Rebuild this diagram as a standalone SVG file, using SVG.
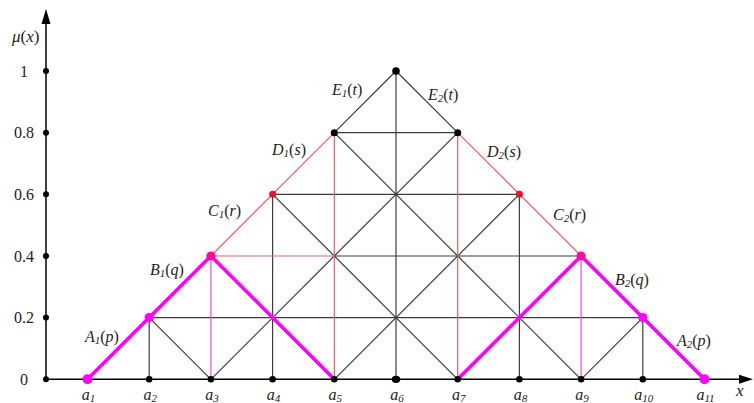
<svg xmlns="http://www.w3.org/2000/svg" width="754" height="403" viewBox="0 0 754 403">
<style>
.g{stroke:#3c3c3c;stroke-width:1.2;fill:none}
.r{stroke:#ee5a62;stroke-width:1.2;fill:none}
.mt{stroke:#e23ee2;stroke-width:1.1;fill:none}
.m{stroke:#ff00ff;stroke-width:3.6;fill:none;stroke-linecap:round;stroke-linejoin:round}
.ax{stroke:#000;stroke-width:1.5;fill:none}
text{font-family:"Liberation Serif","Times New Roman",serif;fill:#222}
.t{font-size:16px}
.l{font-size:16px}
.i{font-style:italic}
.s{font-size:11px;font-style:italic}
.dk{fill:#000}
.dm{fill:#ff00ff}
.dr{fill:#e8102a}
.dp{fill:#f0109a}
</style>
<rect width="754" height="403" fill="#fff"/>
<g id="axes">
<line class="ax" x1="46" y1="379.3" x2="46" y2="22"/>
<polygon points="46,9 41.5,24 50.5,24" fill="#000"/>
<line class="ax" x1="46" y1="379.3" x2="741" y2="379.3"/>
<polygon points="753,379.3 739,374.8 739,383.8" fill="#000"/>
<circle class="dk" cx="46" cy="379.3" r="3"/>
<circle class="dk" cx="46" cy="317.6" r="3"/>
<circle class="dk" cx="46" cy="256" r="3"/>
<circle class="dk" cx="46" cy="194.3" r="3"/>
<circle class="dk" cx="46" cy="132.7" r="3"/>
<circle class="dk" cx="46" cy="71" r="3"/>
<text class="t" x="24" y="76.5" text-anchor="middle">1</text>
<text class="t" x="24" y="138.2" text-anchor="middle">0.8</text>
<text class="t" x="24" y="199.8" text-anchor="middle">0.6</text>
<text class="t" x="24" y="261.5" text-anchor="middle">0.4</text>
<text class="t" x="24" y="323.1" text-anchor="middle">0.2</text>
<text class="t" x="24" y="384.8" text-anchor="middle">0</text>
<text x="12" y="42" font-size="17"><tspan class="i">μ</tspan>(<tspan class="i">x</tspan>)</text>
<text x="736" y="396" font-size="17" class="i">x</text>
</g>
<g id="connectors">
<line class="g" x1="149.2" y1="317.6" x2="642.8" y2="317.6"/>
<line class="g" x1="334.3" y1="256" x2="581.1" y2="256"/>
<line class="g" x1="272.6" y1="194.3" x2="519.4" y2="194.3"/>
<line class="g" x1="334.3" y1="132.7" x2="457.7" y2="132.7"/>
<line class="g" x1="149.2" y1="379.3" x2="149.2" y2="317.6"/>
<line class="g" x1="272.6" y1="379.3" x2="272.6" y2="194.3"/>
<line class="g" x1="396" y1="379.3" x2="396" y2="71"/>
<line class="g" x1="519.4" y1="379.3" x2="519.4" y2="194.3"/>
<line class="g" x1="642.8" y1="379.3" x2="642.8" y2="317.6"/>
<line class="g" x1="210.9" y1="379.3" x2="457.7" y2="132.7"/>
<line class="g" x1="334.3" y1="379.3" x2="519.4" y2="194.3"/>
<line class="g" x1="581.1" y1="379.3" x2="642.8" y2="317.6"/>
<line class="g" x1="210.9" y1="379.3" x2="149.2" y2="317.6"/>
<line class="g" x1="457.7" y1="379.3" x2="272.6" y2="194.3"/>
<line class="g" x1="581.1" y1="379.3" x2="334.3" y2="132.7"/>
<line class="g" x1="334.3" y1="132.7" x2="396" y2="71"/>
<line class="g" x1="396" y1="71" x2="457.7" y2="132.7"/>
<line class="r" x1="210.9" y1="256" x2="334.3" y2="256"/>
<line class="r" x1="334.3" y1="379.3" x2="334.3" y2="132.7"/>
<line class="r" x1="457.7" y1="379.3" x2="457.7" y2="132.7"/>
<line class="r" x1="210.9" y1="256" x2="334.3" y2="132.7"/>
<line class="r" x1="457.7" y1="132.7" x2="581.1" y2="256"/>
<line class="mt" x1="210.9" y1="379.3" x2="210.9" y2="256"/>
<line class="mt" x1="581.1" y1="379.3" x2="581.1" y2="256"/>
<polyline class="m" points="87.5,379.3 210.9,256 334.3,379.3"/>
<polyline class="m" points="457.7,379.3 581.1,256 704.5,379.3"/>
</g>
<g id="a1"><circle class="dm" cx="87.5" cy="379.3" r="5"/><text class="l" x="88.5" y="400" text-anchor="middle"><tspan class="i">a</tspan><tspan class="s" dy="1.5">1</tspan></text></g>
<g id="a2"><circle class="dk" cx="149.2" cy="379.3" r="3.3"/><text class="l" x="150.2" y="400" text-anchor="middle"><tspan class="i">a</tspan><tspan class="s" dy="1.5">2</tspan></text></g>
<g id="a3"><circle class="dk" cx="210.9" cy="379.3" r="3.3"/><text class="l" x="211.9" y="400" text-anchor="middle"><tspan class="i">a</tspan><tspan class="s" dy="1.5">3</tspan></text></g>
<g id="a4"><circle class="dk" cx="272.6" cy="379.3" r="3.3"/><text class="l" x="273.6" y="400" text-anchor="middle"><tspan class="i">a</tspan><tspan class="s" dy="1.5">4</tspan></text></g>
<g id="a5"><circle class="dk" cx="334.3" cy="379.3" r="3.3"/><text class="l" x="335.3" y="400" text-anchor="middle"><tspan class="i">a</tspan><tspan class="s" dy="1.5">5</tspan></text></g>
<g id="a6"><ellipse class="dk" cx="396" cy="379.3" rx="4.3" ry="3.6"/><text class="l" x="397" y="400" text-anchor="middle"><tspan class="i">a</tspan><tspan class="s" dy="1.5">6</tspan></text></g>
<g id="a7"><circle class="dk" cx="457.7" cy="379.3" r="3.3"/><text class="l" x="458.7" y="400" text-anchor="middle"><tspan class="i">a</tspan><tspan class="s" dy="1.5">7</tspan></text></g>
<g id="a8"><circle class="dk" cx="519.4" cy="379.3" r="3.3"/><text class="l" x="520.4" y="400" text-anchor="middle"><tspan class="i">a</tspan><tspan class="s" dy="1.5">8</tspan></text></g>
<g id="a9"><circle class="dk" cx="581.1" cy="379.3" r="3.3"/><text class="l" x="582.1" y="400" text-anchor="middle"><tspan class="i">a</tspan><tspan class="s" dy="1.5">9</tspan></text></g>
<g id="a10"><circle class="dk" cx="642.8" cy="379.3" r="3.3"/><text class="l" x="643.8" y="400" text-anchor="middle"><tspan class="i">a</tspan><tspan class="s" dy="1.5">10</tspan></text></g>
<g id="a11"><circle class="dm" cx="704.5" cy="379.3" r="5"/><text class="l" x="705.5" y="400" text-anchor="middle"><tspan class="i">a</tspan><tspan class="s" dy="1.5">11</tspan></text></g>
<g id="A1"><circle class="dm" cx="149.2" cy="317.6" r="4.6"/><text class="l" x="85" y="342"><tspan class="i">A</tspan><tspan class="s" dy="2">1</tspan><tspan dy="-2">(</tspan><tspan class="i">p</tspan>)</text></g>
<g id="B1"><circle class="dp" cx="210.9" cy="256" r="4.6"/><text class="l" x="150" y="275"><tspan class="i">B</tspan><tspan class="s" dy="2">1</tspan><tspan dy="-2">(</tspan><tspan class="i">q</tspan>)</text></g>
<g id="C1"><circle class="dr" cx="272.6" cy="194.3" r="3.5"/><text class="l" x="208" y="216"><tspan class="i">C</tspan><tspan class="s" dy="2">1</tspan><tspan dy="-2">(</tspan><tspan class="i">r</tspan>)</text></g>
<g id="D1"><circle class="dk" cx="334.3" cy="132.7" r="3.5"/><text class="l" x="272" y="155"><tspan class="i">D</tspan><tspan class="s" dy="2">1</tspan><tspan dy="-2">(</tspan><tspan class="i">s</tspan>)</text></g>
<g id="E1"><circle class="dk" cx="396" cy="71" r="3.8"/><text class="l" x="332" y="95"><tspan class="i">E</tspan><tspan class="s" dy="2">1</tspan><tspan dy="-2">(</tspan><tspan class="i">t</tspan>)</text></g>
<g id="E2"><circle class="dk" cx="457.7" cy="132.7" r="3.5"/><text class="l" x="428" y="100"><tspan class="i">E</tspan><tspan class="s" dy="2">2</tspan><tspan dy="-2">(</tspan><tspan class="i">t</tspan>)</text></g>
<g id="D2"><circle class="dr" cx="519.4" cy="194.3" r="3.5"/><text class="l" x="487" y="157"><tspan class="i">D</tspan><tspan class="s" dy="2">2</tspan><tspan dy="-2">(</tspan><tspan class="i">s</tspan>)</text></g>
<g id="C2"><circle class="dp" cx="581.1" cy="256" r="4.6"/><text class="l" x="553" y="220"><tspan class="i">C</tspan><tspan class="s" dy="2">2</tspan><tspan dy="-2">(</tspan><tspan class="i">r</tspan>)</text></g>
<g id="B2"><circle class="dm" cx="642.8" cy="317.6" r="4.6"/><text class="l" x="615" y="285"><tspan class="i">B</tspan><tspan class="s" dy="2">2</tspan><tspan dy="-2">(</tspan><tspan class="i">q</tspan>)</text></g>
<g id="A2"><text class="l" x="677" y="346"><tspan class="i">A</tspan><tspan class="s" dy="2">2</tspan><tspan dy="-2">(</tspan><tspan class="i">p</tspan>)</text></g>
</svg>
